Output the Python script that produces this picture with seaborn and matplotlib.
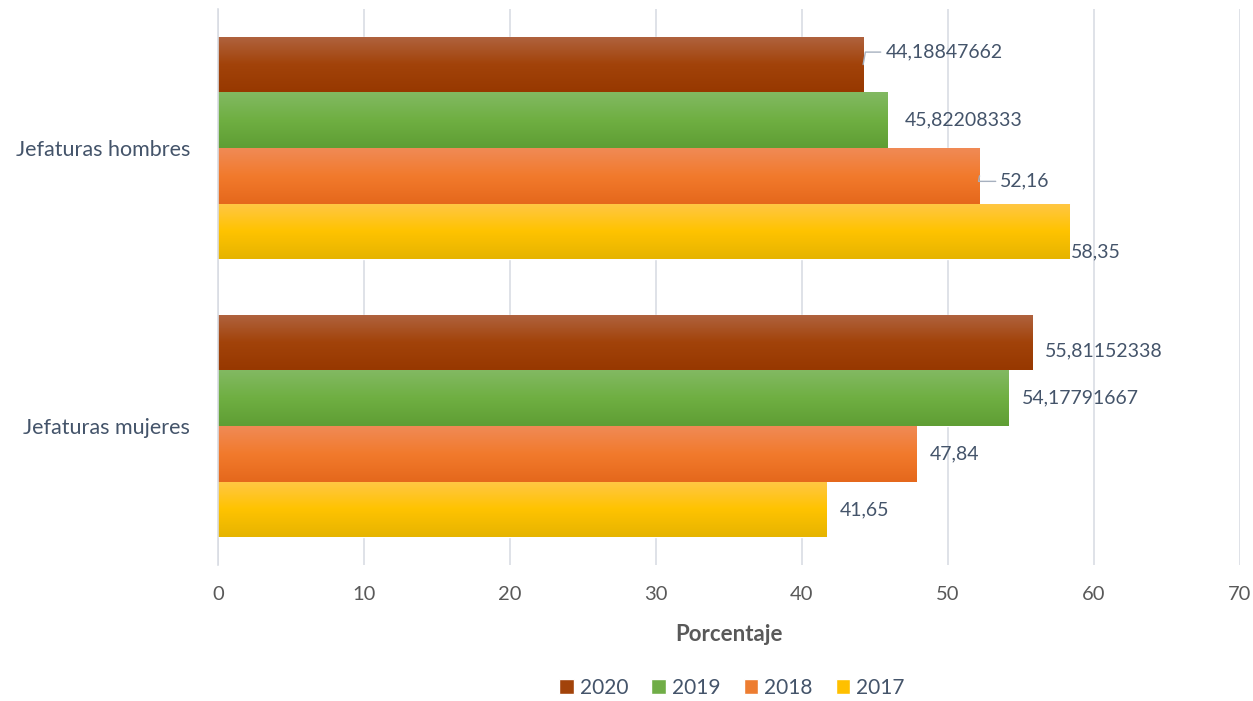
import numpy as np
import pandas as pd
import matplotlib as mpl
mpl.use("Agg")
import matplotlib.pyplot as plt
import seaborn as sns
from matplotlib.colors import LinearSegmentedColormap
from matplotlib.patches import Patch

categories = ["Jefaturas hombres", "Jefaturas mujeres"]
years = ["2020", "2019", "2018", "2017"]
val_2020 = [44.18847662, 55.81152338]
val_2019 = [45.82208333, 54.17791667]
val_2018 = [52.16, 47.84]
val_2017 = [58.35, 41.65]
label_2020 = ["44,18847662", "55,81152338"]
label_2019 = ["45,82208333", "54,17791667"]
label_2018 = ["52,16", "47,84"]
label_2017 = ["58,35", "41,65"]

# gradient colours per year (top, middle, bottom)
grads = {
    "2020": ["#B0633F", "#A2430A", "#973800"],
    "2019": ["#82B962", "#6FAF42", "#5F9E34"],
    "2018": ["#F08A55", "#F27A2C", "#E5681C"],
    "2017": ["#FFC745", "#FFC300", "#E6B400"],
}
base = {"2020": "#A2430A", "2019": "#70AD47", "2018": "#ED7D31", "2017": "#FFC000"}

df = pd.DataFrame({
    "cat": categories * 4,
    "year": sum([[y] * 2 for y in years], []),
    "val": val_2020 + val_2019 + val_2018 + val_2017,
    "lab": label_2020 + label_2019 + label_2018 + label_2017,
})

sns.set_style("white")
plt.rcParams["font.family"] = ["Lato", "DejaVu Sans"]

fig = plt.figure(figsize=(12.53, 7.01), dpi=100)
ax = fig.add_axes([218 / 1253, 1 - 565 / 701, 1022 / 1253, 556 / 701])

sns.barplot(data=df, x="val", y="cat", hue="year", hue_order=years, order=categories,
            palette=base, orient="h", width=0.8, ax=ax, legend=False, saturation=1)

# gradient fill clipped to each bar
for cont, yr in zip(ax.containers, years):
    cmap = LinearSegmentedColormap.from_list(yr, grads[yr])
    for bar in cont:
        x0, y0 = bar.get_x(), bar.get_y()
        w, h = bar.get_width(), bar.get_height()
        grad = np.linspace(0, 1, 64).reshape(-1, 1)
        im = ax.imshow(grad, cmap=cmap, aspect="auto", extent=[x0, x0 + w, y0 + h, y0],
                       origin="upper", zorder=bar.get_zorder() + 0.1)
        im.set_clip_path(bar)

# data labels (label offsets in points: dx, dy)
offsets = {("Jefaturas hombres", "2020"): (16, 9), ("Jefaturas hombres", "2019"): (13, 0),
           ("Jefaturas hombres", "2018"): (15, -4), ("Jefaturas hombres", "2017"): (1, -15),
           ("Jefaturas mujeres", "2020"): (9, -6)}
leaders = [("Jefaturas hombres", "2020"), ("Jefaturas hombres", "2018")]
for cont, yr in zip(ax.containers, years):
    sub = df[df.year == yr].set_index("cat")
    for bar, cat in zip(cont, categories):
        dx, dy = offsets.get((cat, yr), (9.5, 0))
        xe = bar.get_x() + bar.get_width()
        yc = bar.get_y() + bar.get_height() / 2
        ax.annotate(sub.loc[cat, "lab"], xy=(xe, yc), xytext=(dx, dy),
                    textcoords="offset points", ha="left", va="center", fontsize=14,
                    color="#44546A", zorder=5,
                    arrowprops=dict(arrowstyle="-", color="#A6B0BF", lw=1,
                                    shrinkA=1, shrinkB=0, connectionstyle="angle,angleA=0,angleB=80,rad=0")
                    if (cat, yr) in leaders else None)

ax.set_xlim(0, 70)
ax.set_ylim(1.5, -0.5)
ax.set_xticks(range(0, 71, 10))
ax.xaxis.grid(True, color="#D9DDE4", lw=1.2)
ax.set_axisbelow(True)
for s in ["top", "right", "bottom"]:
    ax.spines[s].set_visible(False)
ax.spines["left"].set_color("#D9DDE4")
ax.spines["left"].set_linewidth(1.2)
ax.tick_params(axis="x", labelsize=14.5, labelcolor="#595959", length=0, pad=15)
ax.tick_params(axis="y", labelsize=15.5, labelcolor="#44546A", length=0, pad=20)
ax.set_ylabel("")
ax.set_xlabel("Porcentaje", fontsize=16, fontweight="bold", color="#595959", labelpad=15)

handles = [Patch(facecolor=base[y], label=y) for y in years]
fig.legend(handles=handles, loc="center", bbox_to_anchor=(732 / 1253, 1 - 688 / 701), ncol=4,
           frameon=False, fontsize=15, handlelength=0.7, handleheight=0.7, handletextpad=0.3,
           columnspacing=1.1, labelcolor="#44546A")

fig.savefig("out.png", dpi=100)
